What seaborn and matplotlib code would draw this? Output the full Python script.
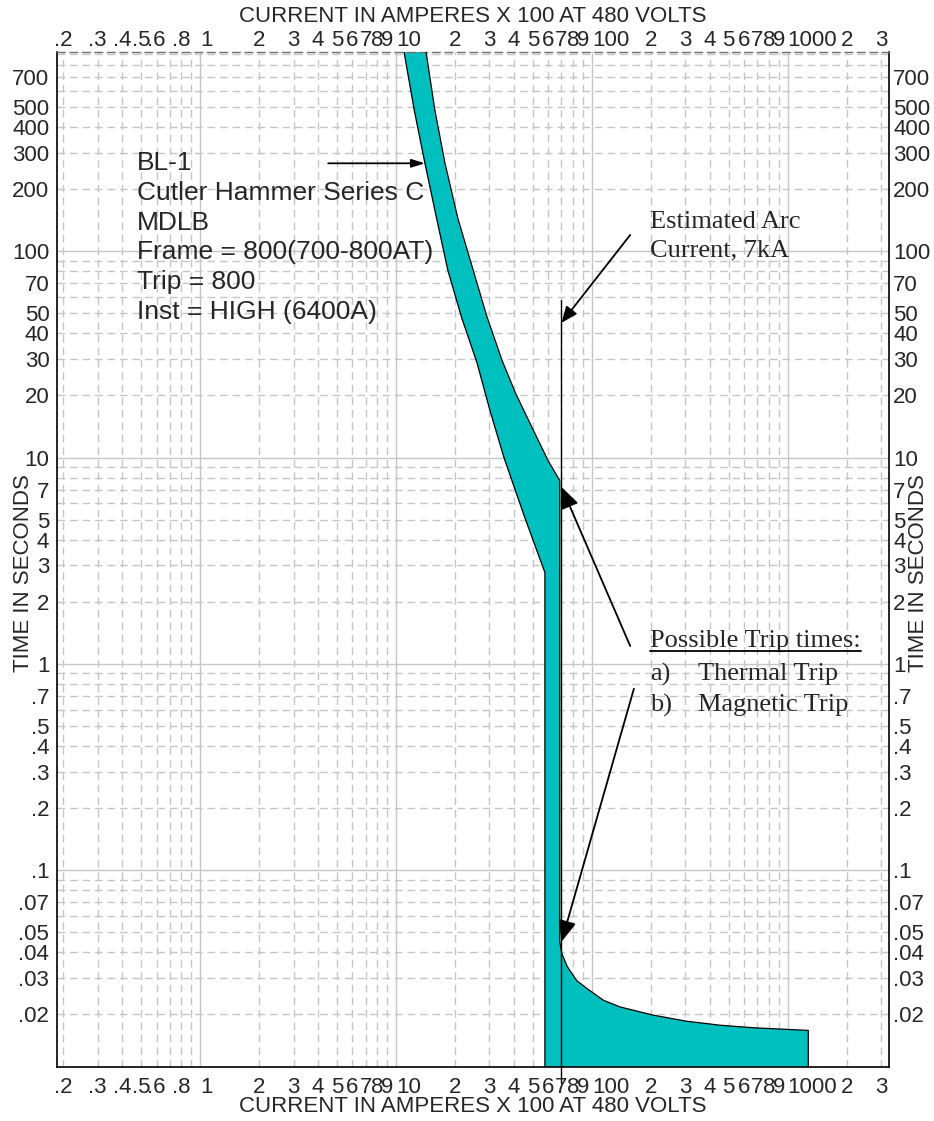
import matplotlib
matplotlib.use("Agg")
import matplotlib.pyplot as plt
from matplotlib.ticker import FixedLocator, FixedFormatter
from matplotlib.lines import Line2D
import seaborn as sns

# ---- breaker characteristic (current in A x100, time in s) ----
thermal_min_x = [11.0, 12.4, 14.06, 16.0, 18.4, 21.7, 25.9, 30.2, 35.6, 45.1, 57.6]
thermal_min_y = [925, 483, 267, 149.6, 80.9, 47.3, 28.9, 16.9, 10.0, 5.23, 2.77]
thermal_max_x = [14.25, 15.8, 17.8, 20.7, 24.8, 29.0, 34.8, 40.8, 49.5, 59.8, 68.6]
thermal_max_y = [925, 483, 267, 144.6, 80.9, 48.9, 29.6, 20.5, 14.0, 9.67, 7.73]
inst_low = 57.6
inst_high = 68.6
clearing_x = [68.6, 70.3, 75.0, 83.5, 94.2, 114.5, 139.3, 206, 305, 451, 667, 1274]
clearing_y = [0.0449, 0.0394, 0.0340, 0.0292, 0.0267, 0.0234, 0.0217, 0.0198,
              0.0185, 0.0177, 0.0172, 0.0167]
band_floor = 0.005

# ---- estimated arc current ----
arc_current = 70.0
arc_line_y = [57.8, 0.0093]

# ---- ticks ----
x_major = [1, 10, 100, 1000]
x_major_labels = ["1", "10", "100", "1000"]
x_minor = [0.2, 0.3, 0.4, 0.5, 0.6, 0.7, 0.8, 0.9,
           2, 3, 4, 5, 6, 7, 8, 9,
           20, 30, 40, 50, 60, 70, 80, 90,
           200, 300, 400, 500, 600, 700, 800, 900,
           2000, 3000]
x_minor_labels = [".2", ".3", ".4", ".5", ".6", "", ".8", "",
                  "2", "3", "4", "5", "6", "7", "8", "9",
                  "2", "3", "4", "5", "6", "7", "8", "9",
                  "2", "3", "4", "5", "6", "7", "8", "9",
                  "2", "3"]
y_major = [0.1, 1, 10, 100]
y_major_labels = [".1", "1", "10", "100"]
y_minor = [0.02, 0.03, 0.04, 0.05, 0.06, 0.07, 0.08, 0.09,
           0.2, 0.3, 0.4, 0.5, 0.6, 0.7, 0.8, 0.9,
           2, 3, 4, 5, 6, 7, 8, 9,
           20, 30, 40, 50, 60, 70, 80, 90,
           200, 300, 400, 500, 600, 700, 800, 900]
y_minor_labels = [".02", ".03", ".04", ".05", "", ".07", "", "",
                  ".2", ".3", ".4", ".5", "", ".7", "", "",
                  "2", "3", "4", "5", "", "7", "", "",
                  "20", "30", "40", "50", "", "70", "", "",
                  "200", "300", "400", "500", "", "700", "", ""]

x_limits = (0.186, 3290)
y_limits = (0.0111, 925)

axis_x_label = "CURRENT IN AMPERES X 100 AT 480 VOLTS"
axis_y_label = "TIME IN SECONDS"
device_lines = ["BL-1", "Cutler Hammer Series C", "MDLB",
                "Frame = 800(700-800AT)", "Trip = 800", "Inst = HIGH (6400A)"]

sns.set_style("white")
plt.rcParams["font.family"] = ["Liberation Sans", "DejaVu Sans"]

BAND = "#00BFBF"
GRID = "#c6c6c6"
TICK_FS = 16

fig = plt.figure(figsize=(9.34, 11.21), dpi=100)
ax = fig.add_axes([57 / 934, 1 - 1067 / 1121, 832 / 934, 1015 / 1121])
ax.set_xscale("log")
ax.set_yscale("log")
ax.set_xlim(*x_limits)
ax.set_ylim(*y_limits)


def style_ticks(a, which_axis):
    axis = a.xaxis if which_axis == "x" else a.yaxis
    if which_axis == "x":
        axis.set_major_locator(FixedLocator(x_major))
        axis.set_major_formatter(FixedFormatter(x_major_labels))
        axis.set_minor_locator(FixedLocator(x_minor))
        axis.set_minor_formatter(FixedFormatter(x_minor_labels))
    else:
        axis.set_major_locator(FixedLocator(y_major))
        axis.set_major_formatter(FixedFormatter(y_major_labels))
        axis.set_minor_locator(FixedLocator(y_minor))
        axis.set_minor_formatter(FixedFormatter(y_minor_labels))


style_ticks(ax, "x")
style_ticks(ax, "y")
ax.tick_params(axis="x", which="both", length=0, labelsize=TICK_FS, pad=7.5)
ax.tick_params(axis="y", which="both", length=0, labelsize=TICK_FS, pad=5.5)

ax.grid(which="major", color=GRID, lw=1.0, ls="-")
ax.grid(which="minor", color=GRID, lw=1.0, ls=(0, (5.5, 3.5)))
ax.set_axisbelow(True)

for side in ("left", "bottom", "right"):
    ax.spines[side].set_color("black")
    ax.spines[side].set_linewidth(1.2)
ax.spines["top"].set_color("#707070")
ax.spines["top"].set_linewidth(1.0)
ax.spines["top"].set_linestyle((0, (5.5, 3.5)))

# mirrored tick labels on top and right
ax_top = ax.twiny()
ax_top.set_xscale("log")
ax_top.set_xlim(*x_limits)
style_ticks(ax_top, "x")
ax_top.tick_params(axis="x", which="both", length=0, labelsize=TICK_FS, pad=0.5)
ax_right = ax.twinx()
ax_right.set_yscale("log")
ax_right.set_ylim(*y_limits)
style_ticks(ax_right, "y")
ax_right.tick_params(axis="y", which="both", length=0, labelsize=TICK_FS, pad=3)
for a in (ax_top, ax_right):
    a.grid(False)
    for s in a.spines.values():
        s.set_visible(False)

for a in (ax, ax_top):
    for lab in a.xaxis.get_majorticklabels():
        lab.set_horizontalalignment("left")

# ---- trip band ----
poly_x = (thermal_min_x + [inst_low, clearing_x[-1], clearing_x[-1]]
          + clearing_x[::-1] + thermal_max_x[::-1])
poly_y = (thermal_min_y + [band_floor, band_floor, clearing_y[-1]]
          + clearing_y[::-1] + thermal_max_y[::-1])
ax.fill(poly_x, poly_y, color=BAND, lw=0, zorder=2)

sns.lineplot(x=thermal_min_x + [inst_low], y=thermal_min_y + [band_floor],
             sort=False, estimator=None, color="black", lw=0.9, ax=ax, zorder=3)
sns.lineplot(x=thermal_max_x + clearing_x + [clearing_x[-1]],
             y=thermal_max_y + clearing_y + [band_floor],
             sort=False, estimator=None, color="black", lw=0.9, ax=ax, zorder=3)

# arc current marker line
sns.lineplot(x=[arc_current, arc_current], y=arc_line_y, sort=False,
             estimator=None, color="black", lw=1.0, ax=ax, zorder=4, clip_on=False)

# ---- annotations ----
def arrow(tip, tail, scale, hl=0.65, hw=0.27):
    ax.annotate("", xy=tip, xytext=tail, zorder=5,
                arrowprops=dict(arrowstyle=f"-|>,head_length={hl},head_width={hw}",
                                mutation_scale=scale, color="black", lw=1.3,
                                shrinkA=0, shrinkB=0))

arrow((thermal_min_x[2], thermal_min_y[2]), (4.51, thermal_min_y[2]), 10, 0.8, 0.25)
arrow((arc_current, 45), (157, 120), 15)
arrow((arc_current, 7.2), (157, 1.22), 20)
arrow((arc_current, clearing_y[0]), (164, 0.757), 20)

fx = lambda px: (px - 57) / 832
fy = lambda py: (1067 - py) / 1015

for i, line in enumerate(device_lines):
    ax.text(fx(137), fy(163 + 29.8 * i), line, transform=ax.transAxes,
            fontsize=19, va="center", ha="left", zorder=6)

serif = ["Liberation Serif", "DejaVu Serif"]
ax.text(fx(650), fy(222), "Estimated Arc", transform=ax.transAxes,
        fontsize=19, family=serif, va="center", zorder=6)
ax.text(fx(650), fy(250), "Current, 7kA", transform=ax.transAxes,
        fontsize=19, family=serif, va="center", zorder=6)
head = ax.text(fx(650), fy(641), "Possible Trip times:", transform=ax.transAxes,
               fontsize=19, family=serif, va="center", zorder=6)
ax.text(fx(650), fy(674), "a)", transform=ax.transAxes, fontsize=19,
        family=serif, va="center", zorder=6)
ax.text(fx(698), fy(674), "Thermal Trip", transform=ax.transAxes, fontsize=19,
        family=serif, va="center", zorder=6)
ax.text(fx(650), fy(705), "b)", transform=ax.transAxes, fontsize=19,
        family=serif, va="center", zorder=6)
ax.text(fx(698), fy(705), "Magnetic Trip", transform=ax.transAxes, fontsize=19,
        family=serif, va="center", zorder=6)

# axis titles on all four sides
cx = (57 + 889) / 2 / 934
cy = 1 - 573 / 1121
fig.text(cx, 1 - 17 / 1121, axis_x_label, fontsize=16, ha="center", va="center")
fig.text(cx, 1 - 1106 / 1121, axis_x_label, fontsize=16, ha="center", va="center")
fig.text(24 / 934, cy, axis_y_label, fontsize=16, rotation=90, ha="center", va="center")
fig.text(918 / 934, cy, axis_y_label, fontsize=16, rotation=90, ha="center", va="center")

# underline the trip-times heading
fig.canvas.draw()
bb = head.get_window_extent()
H = fig.bbox.height
uy = bb.y0 + 1
fig.add_artist(Line2D([bb.x0 / fig.bbox.width, bb.x1 / fig.bbox.width],
                      [uy / H, uy / H], color="black", lw=1.3,
                      transform=fig.transFigure))

fig.savefig("out.png", dpi=100)
